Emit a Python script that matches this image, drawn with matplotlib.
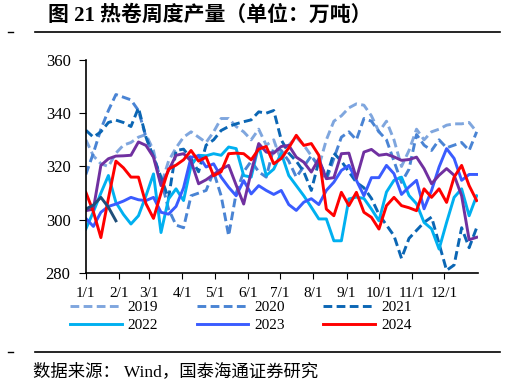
import numpy as np
import matplotlib
matplotlib.use("Agg")
import matplotlib.pyplot as plt
from matplotlib.lines import Line2D

plt.rcParams['font.family'] = ['Liberation Serif', 'Noto Sans CJK SC', 'DejaVu Sans']

# weekly hot-rolled coil output, 10k tonnes, one value per week from 1/1
y2019 = [330, 324, 321, 320, 325, 328, 329, 331, 332, 326, 313, 322, 327, 331, 333, 331, 329, 333,
         338, 338, 335, 333, 330, 334, 328, 330, 322, 328, 331, 328, 324, 320, 330, 337, 339, 342,
         343.5, 343, 339, 333, 337, 330, 320, 326, 334, 330, 333, 334, 335.5, 336, 336, 336.5, 333]
y2020 = [317, 325, 334, 341, 347, 346, 345, 341, 331, 324, 315, 304, 298, 297, 309, 310, 311, 318,
         309, 294, 310, 318, 322, 318, 316, 327, 326, 322, 316, 320, 324, 320, 315, 323, 331, 333,
         330, 338, 337, 333, 330, 322, 314, 319, 332, 328, 326, 330, 327, 328, 329, 326, 333]
y2021 = [333.6, 331, 333, 336.5, 337.4, 336.5, 335, 342, 331, 323.5, 316, 308, 326, 326.5, 323, 318,
         328, 330, 333.5, 335, 336, 336.8, 337.5, 340.5, 340, 341, 330, 325, 322, 318, 311, 322, 316,
         325, 322, 318, 314, 312, 308, 302, 298, 294, 285.5, 293, 296, 299, 301, 291, 281, 283, 297,
         289.5, 297]
y2022 = [296.5, 303, 310, 316.6, 306.5, 302, 298.4, 301.5, 309, 317.2, 295.2, 307.8, 311.6, 307.2,
         320.4, 324.2, 324, 324.8, 324.2, 327.3, 326.7, 316.6, 316, 328, 316.6, 319, 325, 316.6, 312.8,
         309, 304.7, 300.3, 300.3, 292.1, 292.1, 307.8, 308.5, 308, 304, 299.6, 310.4, 314.8, 316,
         309.1, 306, 299, 296.6, 289, 299, 308.4, 311.6, 301.5, 309]
y2023 = [300.5, 297.5, 302.8, 305, 305.9, 307, 308.4, 307.5, 307.2, 308.4, 302.8, 302.1, 305, 312,
         323.5, 324, 319.8, 321, 316, 312.2, 309, 314.7, 309.7, 312.8, 311, 309.5, 311, 305.7, 303.5,
         306.6, 307.9, 305.7, 311, 314.1, 318.5, 320.4, 314.8, 309, 315.8, 315.8, 320.4, 317.3, 309.5,
         312.3, 314.8, 304.1, 311, 319.8, 326.7, 323, 314.8, 317, 317]
y2024 = [310.3, 303, 293.3, 308, 322, 319.5, 316, 316, 306, 300.5, 310, 319, 320.5, 322.5, 326, 322,
         323.5, 316.5, 318, 324.8, 325, 324.8, 322.5, 326.5, 327.5, 321, 323, 327, 331.7, 327.9, 328.6,
         324.2, 304, 301.5, 310.3, 305.3, 310.3, 302.8, 300.9, 296.5, 305.3, 308.4, 305.3, 304.5, 303.4,
         311.6, 308.4, 311.6, 306.5, 316, 320.4, 312.8, 307.2]
y2025 = [303.4, 304, 320.4, 322.9, 323.9, 324, 324.2, 329.2, 327.9, 323.5, 312.8, 318.5, 324.2, 324.8,
         322, 313.5, 315, 317, 319, 320.4, 313, 305.9, 318, 328.6, 325.4, 325, 327.5, 327.9, 323.5,
         321.6, 317.9, 322.9, 315.4, 315.8, 324.8, 325, 315.5, 325.4, 326.4, 324.2, 324.6, 323.6,
         322.3, 322.6, 323.5, 319.2, 313.5, 316.7, 319.2, 316.7, 309, 292.5, 293.4]
y2026 = [304, 305.5, 308.4, 304.7, 299.6]

month_days = [0, 31, 59, 90, 120, 151, 181, 212, 243, 273, 304, 334]
month_labels = ['1/1', '2/1', '3/1', '4/1', '5/1', '6/1', '7/1', '8/1', '9/1', '10/1', '11/1', '12/1']

fig = plt.figure(figsize=(5.05, 3.84), dpi=100)
ax = fig.add_axes([0.170, 0.289, 0.776, 0.555])

def days(vals):
    return np.arange(len(vals)) * 7

lw = 2.1
dash = (3, 1.5)
h19, = ax.plot(days(y2019), y2019, color='#7fa6de', lw=lw, dashes=dash, label='2019')
h20, = ax.plot(days(y2020), y2020, color='#4a84d4', lw=lw, dashes=dash, label='2020')
h21, = ax.plot(days(y2021), y2021, color='#0b66b4', lw=lw, dashes=dash, label='2021')
h22, = ax.plot(days(y2022), y2022, color='#00b0f0', lw=lw, label='2022')
h23, = ax.plot(days(y2023), y2023, color='#3a5cff', lw=lw, label='2023')
ax.plot(days(y2025), y2025, color='#7030a0', lw=lw)
h24, = ax.plot(days(y2024), y2024, color='#ff0000', lw=lw, label='2024')
ax.plot(days(y2026), y2026, color='#1f4e79', lw=lw)

ax.set_xlim(0, 365)
ax.set_ylim(280, 360)
ax.set_yticks([280, 300, 320, 340, 360])
ax.set_xticks(month_days)
ax.set_xticklabels(month_labels)
ax.tick_params(axis='y', direction='out', length=5, labelsize=12, pad=6)
ax.tick_params(axis='x', direction='out', length=4, labelsize=11, pad=6)
for s in ['top', 'right']:
    ax.spines[s].set_visible(False)
for s in ['left', 'bottom']:
    ax.spines[s].set_linewidth(1.2)

# legend filled column by column -> reorder so rows read 2019-2021, 2022-2024
handles = [h19, h22, h20, h23, h21, h24]
ax.legend(handles=handles, labels=[h.get_label() for h in handles],
          loc='upper left', bbox_to_anchor=(-0.041, -0.128), ncol=3, frameon=False,
          fontsize=11, handlelength=3.4, handletextpad=0.4, columnspacing=2.5,
          labelspacing=0.3, borderaxespad=0, borderpad=0)

# title, rules and source
fig.text(0.095, 0.958, '图 21 热卷周度产量（单位：万吨）', fontsize=15, fontweight='bold',
         family=['Liberation Serif', 'Noto Sans CJK SC', 'DejaVu Sans'], va='center')
for yy in [0.917, 0.083]:
    fig.add_artist(Line2D([0.069, 0.99], [yy, yy], color='black', lw=1.2))
    fig.add_artist(Line2D([0.016, 0.026], [yy, yy], color='black', lw=1.0))
fig.text(0.066, 0.031, '数据来源： Wind，国泰海通证券研究', fontsize=12.5,
         family=['Liberation Serif', 'Noto Sans CJK SC', 'DejaVu Sans'], va='center')

fig.savefig('out.png', dpi=100)
